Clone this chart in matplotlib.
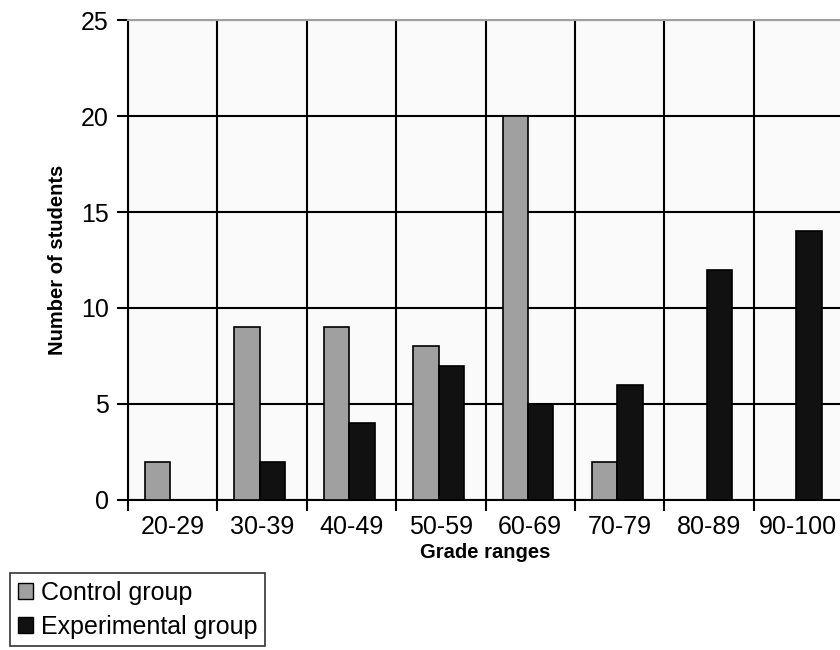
import matplotlib.pyplot as plt
from matplotlib.patches import Patch
import numpy as np

plt.rcParams["font.family"] = ["Liberation Sans", "DejaVu Sans"]

grade_ranges = ["20-29", "30-39", "40-49", "50-59", "60-69", "70-79", "80-89", "90-100"]
control_group = [2, 9, 9, 8, 20, 2, 0, 0]
experimental_group = [0, 2, 4, 7, 5, 6, 12, 14]

control_color = "#a0a0a0"
experimental_color = "#111111"

fig = plt.figure(figsize=(8.4, 6.5), dpi=100)
ax = fig.add_axes([0.1524, 0.2308, 0.8512, 0.7384])
ax.set_facecolor("#fafafa")

x = np.arange(len(grade_ranges))
width = 0.285
ax.bar(x + 0.19, control_group, width=width, align="edge",
       color=control_color, edgecolor="black", linewidth=1.2, zorder=3)
ax.bar(x + 0.19 + width, experimental_group, width=width, align="edge",
       color=experimental_color, edgecolor="black", linewidth=1.2, zorder=3)

ax.set_xlim(0, len(grade_ranges))
ax.set_ylim(0, 25)
ax.set_yticks([0, 5, 10, 15, 20, 25])
# major ticks sit on category borders (grid), minor ones carry the labels
ax.set_xticks(np.arange(len(grade_ranges) + 1))
ax.set_xticklabels([])
ax.set_xticks(x + 0.5, minor=True)
ax.set_xticklabels(grade_ranges, minor=True)
ax.tick_params(axis="x", which="minor", length=0, pad=11, labelsize=18)
ax.tick_params(axis="x", which="major", length=8, width=1.5, direction="out")
ax.tick_params(axis="y", length=8, width=1.5, direction="out", pad=6, labelsize=18)

ax.grid(True, which="major", color="black", linewidth=1.5, zorder=1)
ax.set_axisbelow(True)

for side in ["left", "bottom"]:
    ax.spines[side].set_linewidth(1.5)
ax.spines["top"].set_color("#a0a0a0")
ax.spines["top"].set_linewidth(1.5)
ax.spines["right"].set_visible(False)

ax.set_ylabel("Number of students", fontsize=14.5, fontweight="bold", labelpad=10)
ax.set_xlabel("Grade ranges", fontsize=14.5, fontweight="bold", labelpad=3)

handles = [Patch(facecolor=control_color, edgecolor="black", linewidth=1.0),
           Patch(facecolor=experimental_color, edgecolor="black", linewidth=1.0)]
leg = fig.legend(handles, ["Control group", "Experimental group"],
                 loc="upper left", bbox_to_anchor=(0.012, 0.118),
                 fontsize=18, frameon=True, fancybox=False,
                 handlelength=0.6, handleheight=0.6, handletextpad=0.35,
                 labelspacing=0.4, borderpad=0.3, borderaxespad=0)
leg.get_frame().set_edgecolor("black")
leg.get_frame().set_linewidth(1.2)

fig.savefig("out.png", dpi=100)
